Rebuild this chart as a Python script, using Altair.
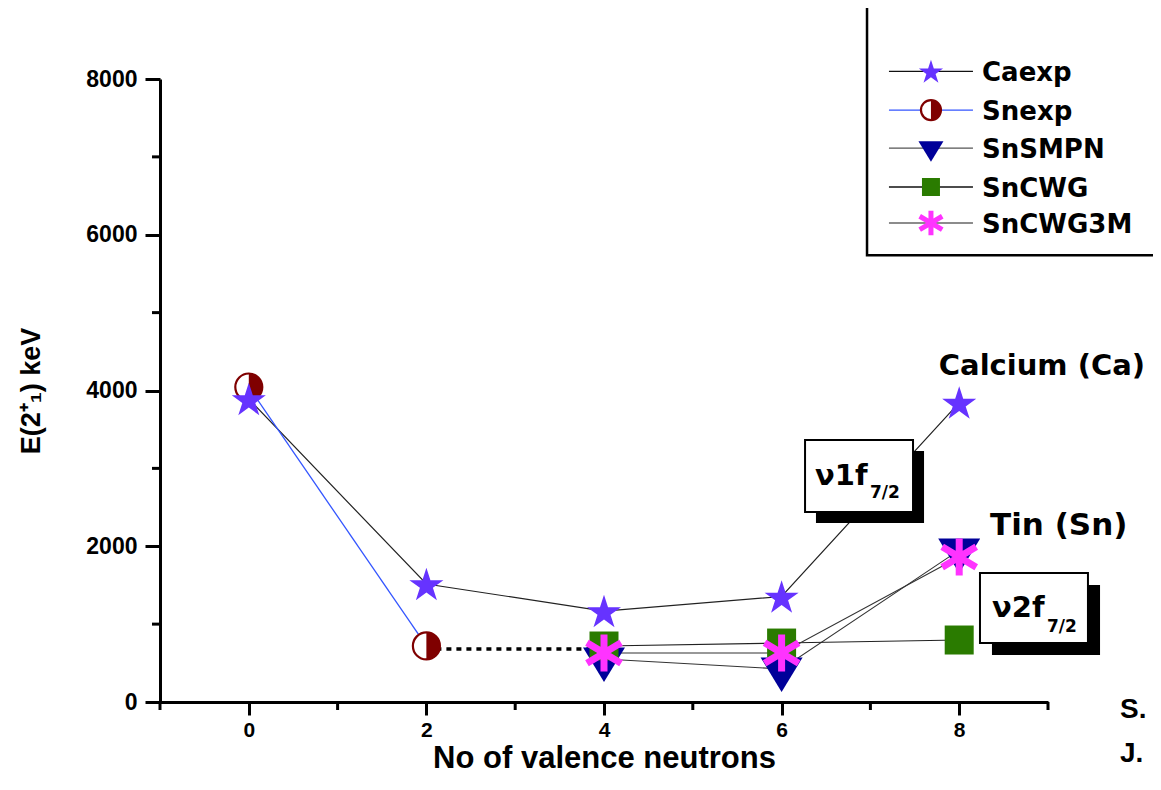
import altair as alt
import pandas as pd

# ---------------- data ----------------
x_vals = [0, 2, 4, 6, 8]
ca_exp = [3890, 1515, 1168, 1355, 3845]
sn_exp_x = [0, 2]
sn_exp = [4045, 720]
sn_calc_x = [4, 6, 8]
sn_smpn = [552, 424, 1950]
sn_cwg = [719, 757, 796]
sn_cwg3m = [629, 629, 1862]
sn_dotted_x = [2, 4]
sn_dotted = [680, 680]

series_names = ["Caexp", "Snexp", "SnSMPN", "SnCWG", "SnCWG3M"]
x_major = [0, 2, 4, 6, 8]
x_minor = [-1, 1, 3, 5, 7, 9]
y_major = [0, 2000, 4000, 6000, 8000]
y_minor = [1000, 3000, 5000, 7000]

# ---------------- layout / style ----------------
W, H = 888, 623
FONT = "Liberation Sans"
WIDE = "DejaVu Sans"

STAR = ("M0,-0.905L0.2245,-0.2135L0.951,-0.2135L0.363,0.2135L0.588,0.905"
        "L0,0.4775L-0.588,0.905L-0.363,0.2135L-0.951,-0.2135L-0.2245,-0.2135Z")
TRI = "M-1,-0.55L1,-0.55L0,1.1Z"
AST = "M0,-1L0,1M-0.92,-0.55L0.92,0.55M-0.92,0.55L0.92,-0.55"
HALF = "M0,-1A1,1,0,0,1,0,1Z"

C_STAR, C_CIRC, C_TRI, C_SQ, C_AST = "#6633ff", "#7f0000", "#000099", "#2a7b00", "#ff33ff"

xscale = alt.Scale(domain=[-1, 9], nice=False, zero=False)
yscale = alt.Scale(domain=[0, 8000], nice=False, zero=False)
xaxis = alt.Axis(values=x_major, title="No of valence neutrons", grid=False,
                 tickSize=13, tickWidth=3, tickColor="black", domainWidth=3,
                 domainColor="black", labelFont=FONT, labelFontSize=21,
                 labelFontWeight="bold", labelColor="black", labelPadding=4,
                 titleFont=FONT, titleFontSize=31, titleFontWeight="bold",
                 titleColor="black", titlePadding=3, format="d")
yaxis = alt.Axis(values=y_major, title="E(2\u207a\u2081) keV", grid=False,
                 tickSize=15, tickWidth=3, tickColor="black", domainWidth=3,
                 domainColor="black", labelFont=FONT, labelFontSize=23,
                 labelFontWeight="bold", labelColor="black", labelPadding=8,
                 titleFont=FONT, titleFontSize=27, titleFontWeight="bold",
                 titleColor="black", titlePadding=40, format="d")


def xe(f):
    return alt.X(f"{f}:Q", scale=xscale, axis=xaxis)


def ye(f):
    return alt.Y(f"{f}:Q", scale=yscale, axis=yaxis)


def pts(xs, ys):
    return pd.DataFrame({"x": xs, "y": ys})


def line(df, color, sw, dash=None):
    kw = dict(color=color, strokeWidth=sw)
    if dash:
        kw["strokeDash"] = dash
    return alt.Chart(df).mark_line(**kw).encode(x=xe("x"), y=ye("y"))


def marker(df, name, big=True, xf="x", yf="y"):
    layers = []
    if name == "Caexp":
        layers.append(alt.Chart(df).mark_point(shape=STAR, filled=True, color=C_STAR,
                      opacity=1, size=1282 if big else 645, strokeWidth=0))
    elif name == "Snexp":
        s = 729 if big else 400
        layers.append(alt.Chart(df).mark_point(shape="circle", filled=True, fill="white",
                      stroke=C_CIRC, strokeWidth=2.2, opacity=1, size=s))
        layers.append(alt.Chart(df).mark_point(shape=HALF, filled=True, color=C_CIRC,
                      opacity=1, size=s, strokeWidth=0))
    elif name == "SnSMPN":
        layers.append(alt.Chart(df).mark_point(shape=TRI, filled=True, color=C_TRI,
                      opacity=1, size=1764 if big else 625, strokeWidth=0))
    elif name == "SnCWG":
        layers.append(alt.Chart(df).mark_point(shape="square", filled=True, color=C_SQ,
                      opacity=1, size=841 if big else 324, strokeWidth=0))
    elif name == "SnCWG3M":
        layers.append(alt.Chart(df).mark_point(shape=AST, filled=False, color=C_AST,
                      opacity=1, size=1369 if big else 600, strokeWidth=7 if big else 5))
    return [l.encode(x=xe(xf), y=ye(yf)) for l in layers]


# ---------------- series lines ----------------
layers = [
    line(pts(x_vals, ca_exp), "#222222", 1.2),
    line(pts(sn_exp_x, sn_exp), "#3355ff", 1.3),
    line(pts(sn_calc_x, sn_smpn), "#333333", 1.1),
    line(pts(sn_calc_x, sn_cwg), "#222222", 1.1),
    line(pts(sn_calc_x, sn_cwg3m), "#333333", 1.1),
    line(pts(sn_dotted_x, sn_dotted), "black", 3.5, dash=[5, 5]),
]

# minor ticks
layers.append(alt.Chart(pd.DataFrame({"t": x_minor})).mark_rule(color="black", strokeWidth=3)
              .encode(x=xe("t"), y=alt.value(H), y2=alt.value(H + 8)))
layers.append(alt.Chart(pd.DataFrame({"t": y_minor})).mark_rule(color="black", strokeWidth=3)
              .encode(y=ye("t"), x=alt.value(0), x2=alt.value(-8)))

# ---------------- annotation boxes ----------------
boxes = pd.DataFrame({
    "x1": [6.264, 8.234], "x2": [7.480, 9.450],
    "y1": [3364, 1657], "y2": [2440, 758],
    "sx1": [6.387, 8.369], "sx2": [7.604, 9.586],
    "sy1": [3222, 1502], "sy2": [2299, 604],
})
layers.append(alt.Chart(boxes).mark_rect(color="black")
              .encode(x=xe("sx1"), x2="sx2", y=ye("sy1"), y2="sy2"))
layers.append(alt.Chart(boxes).mark_rect(fill="white", stroke="black", strokeWidth=2)
              .encode(x=xe("x1"), x2="x2", y=ye("y1"), y2="y2"))

# ---------------- markers ----------------
layers += marker(pts(sn_exp_x, sn_exp), "Snexp")
layers += marker(pts(sn_calc_x, sn_smpn), "SnSMPN")
layers += marker(pts(sn_calc_x, sn_cwg), "SnCWG")
layers += marker(pts(sn_calc_x, sn_cwg3m), "SnCWG3M")
layers += marker(pts(x_vals, ca_exp), "Caexp")

# ---------------- text annotations ----------------
notes = pd.DataFrame({
    "text": ["Calcium (Ca)", "Tin (Sn)", "\u03bd1f", "7/2", "\u03bd2f", "7/2"],
    "x": [7.77, 8.347, 6.376, 6.995, 8.369, 8.989],
    "y": [4199, 2145, 2787, 2620, 1091, 899],
    "fs": [29, 31, 29, 17, 29, 17],
})
layers.append(alt.Chart(notes).mark_text(align="left", baseline="alphabetic", font=WIDE,
                                         fontWeight="bold", color="black")
              .encode(x=xe("x"), y=ye("y"), text="text:N", size=alt.Size("fs:Q", scale=None)))
sj = pd.DataFrame({"text": ["S.", "J."], "x": [9.811, 9.811], "y": [-205, -770]})
layers.append(alt.Chart(sj).mark_text(align="left", baseline="alphabetic", font=FONT,
                                      fontWeight="bold", fontSize=28, color="black")
              .encode(x=xe("x"), y=ye("y"), text="text:N"))

# ---------------- legend ----------------
legend_y = [8099, 7601, 7113, 6613, 6151]
leg = pd.DataFrame({"name": series_names, "ly": legend_y,
                    "lx1": 7.209, "lx2": 8.155, "mx": 7.682, "tx": 8.257,
                    "lc": ["#111111", "#3355ff", "#555555", "#111111", "#666666"]})
box = pd.DataFrame({"x1": [6.962], "x2": [10.6], "y1": [5738], "y2": [9400]})
layers.append(alt.Chart(box).mark_rect(fill="white", stroke="black", strokeWidth=2.5)
              .encode(x=xe("x1"), x2="x2", y=ye("y1"), y2="y2"))
layers.append(alt.Chart(leg).mark_rule(strokeWidth=1.3)
              .encode(x=xe("lx1"), x2="lx2", y=ye("ly"), color=alt.Color("lc:N", scale=None)))
for nm in series_names:
    sub = leg[leg["name"] == nm]
    layers += marker(sub, nm, big=False, xf="mx", yf="ly")
layers.append(alt.Chart(leg).mark_text(align="left", baseline="alphabetic", dy=10, font=WIDE,
                                       fontWeight="bold", fontSize=26, color="black")
              .encode(x=xe("tx"), y=ye("ly"), text="name:N"))

chart = alt.layer(*layers).properties(
    width=W, height=H,
    autosize=alt.AutoSizeParams(type="none"),
    padding={"left": 152, "top": 71, "right": 105, "bottom": 74},
    background="white",
).configure_view(stroke=None)

chart.save("out.html", embed_options={"renderer": "svg", "actions": False})
